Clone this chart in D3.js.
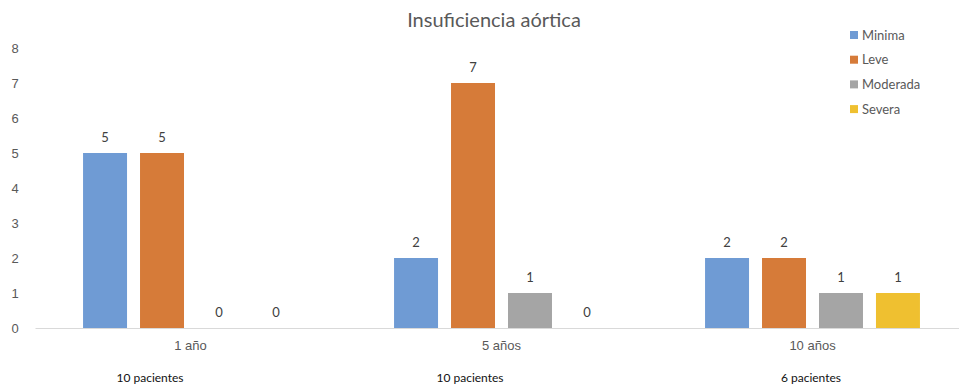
<!DOCTYPE html>
<html>
<head>
<meta charset="utf-8">
<script src="https://cdn.jsdelivr.net/npm/d3@7"></script>
<style>
  html, body { margin: 0; padding: 0; background: #fff; }
  svg { display: block; font-family: Lato, "Open Sans", sans-serif; }
</style>
</head>
<body>
<svg id="chart" width="959" height="386"></svg>
<script>
// Chart data
const categories = ["1 año", "5 años", "10 años"];
const patientNotes = ["10 pacientes", "10 pacientes", "6 pacientes"];
const seriesNames = ["Minima", "Leve", "Moderada", "Severa"];
const minima = [5, 2, 2];
const leve = [5, 7, 2];
const moderada = [0, 1, 1];
const severa = [0, 0, 1];
const yTicks = [0, 1, 2, 3, 4, 5, 6, 7, 8];
const title = "Insuficiencia aórtica";

const seriesValues = [minima, leve, moderada, severa];
const colors = ["#6f9bd4", "#d67b39", "#a5a5a5", "#efc030"];

const svg = d3.select("#chart");
const margin = { left: 35, right: -9, top: 48, bottom: 58 };
const W = 959, H = 386;
const plotW = W - margin.left - margin.right;
const plotH = H - margin.top - margin.bottom;

const g = svg.append("g").attr("transform", `translate(${margin.left},${margin.top})`);

const x0 = d3.scaleBand().domain(categories).range([0, plotW]).paddingInner(0.309).paddingOuter(0.1545);
const x1 = d3.scaleBand().domain(seriesNames).range([0, x0.bandwidth()]).paddingInner(0.228).paddingOuter(0);
const y = d3.scaleLinear().domain([0, 8]).range([plotH, 0]);

// Y axis labels (no axis line)
const yAxis = d3.axisLeft(y).tickValues(yTicks).tickSize(0).tickPadding(16).tickFormat(d3.format("d"));
const yg = g.append("g").call(yAxis);
yg.select(".domain").remove();
yg.selectAll("text").attr("fill", "#595959").style("font-size", "13px")
  .attr("text-anchor", "middle").attr("x", -20);

// Bars
const groups = g.selectAll("g.cat").data(categories).enter().append("g")
  .attr("class", "cat").attr("transform", d => `translate(${x0(d)},0)`);

seriesNames.forEach((s, si) => {
  groups.append("rect")
    .attr("x", x1(s))
    .attr("width", x1.bandwidth())
    .attr("y", (d, ci) => y(seriesValues[si][ci]))
    .attr("height", (d, ci) => y(0) - y(seriesValues[si][ci]))
    .attr("fill", colors[si]);
  groups.append("text")
    .attr("x", x1(s) + x1.bandwidth() / 2)
    .attr("y", (d, ci) => y(seriesValues[si][ci]) - 11)
    .attr("text-anchor", "middle")
    .attr("fill", "#404040")
    .style("font-size", "13px")
    .text((d, ci) => seriesValues[si][ci]);
});

// X axis baseline and category labels
const xAxis = d3.axisBottom(x0).tickSize(0).tickPadding(13);
const xg = g.append("g").attr("transform", `translate(0,${plotH})`).call(xAxis);
xg.select(".domain").attr("stroke", "#d9d9d9").attr("stroke-width", 1);
xg.selectAll("text").attr("fill", "#595959").style("font-size", "13px");

// Patient count notes under each category
const noteX = [150, 470, 811];
svg.selectAll("text.note").data(patientNotes).enter().append("text")
  .attr("class", "note")
  .attr("x", (d, i) => noteX[i])
  .attr("y", 382)
  .attr("text-anchor", "middle")
  .attr("fill", "#111")
  .style("font-size", "12px")
  .text(d => d);

// Title
svg.append("text")
  .attr("x", 494).attr("y", 27)
  .attr("text-anchor", "middle")
  .attr("fill", "#595959")
  .style("font-size", "20px")
  .text(title);

// Legend
const legend = svg.append("g").attr("transform", "translate(850,35)");
seriesNames.forEach((s, i) => {
  const row = legend.append("g").attr("transform", `translate(0,${i * 24.7})`);
  row.append("rect").attr("x", 0).attr("y", -4).attr("width", 8).attr("height", 8).attr("fill", colors[i]);
  row.append("text").attr("x", 12).attr("y", 0).attr("dy", "0.35em")
    .attr("fill", "#595959").style("font-size", "13px").text(s);
});
</script>
</body>
</html>
